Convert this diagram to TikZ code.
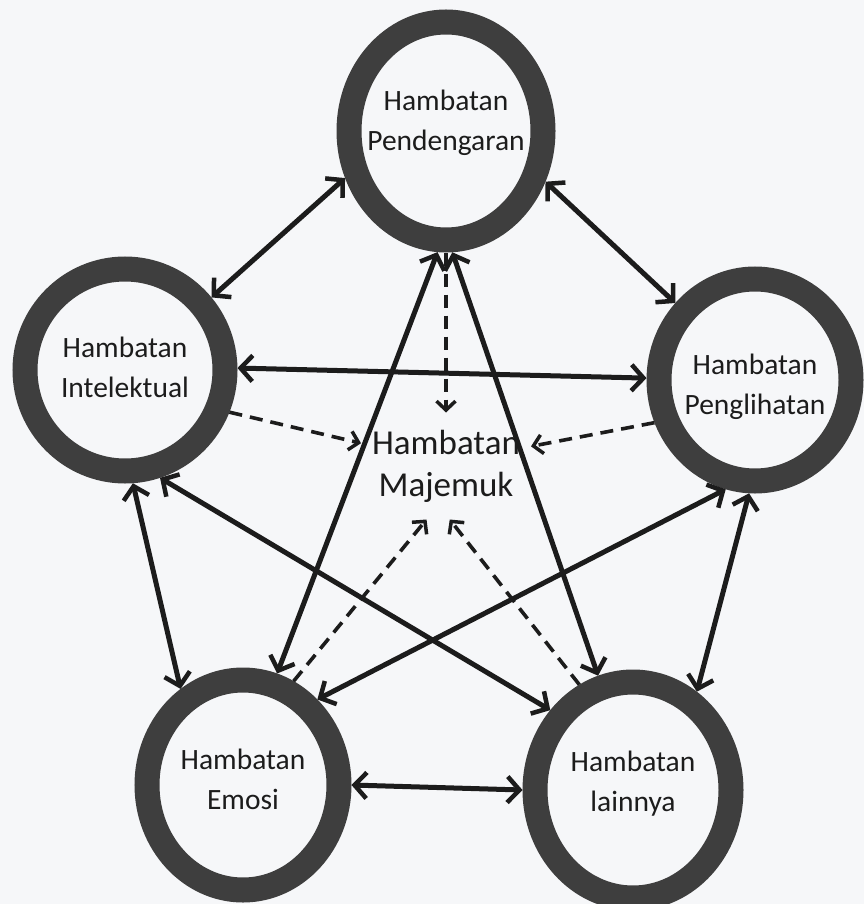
\documentclass[tikz,border=0pt]{standalone}
\usepackage{fontspec}
\setmainfont{Carlito}
\usetikzlibrary{arrows.meta,shapes.geometric}
\definecolor{ringgray}{RGB}{62,62,62}
\definecolor{inkblack}{RGB}{28,28,28}
\definecolor{paper}{RGB}{246,247,249}

\begin{document}
\begin{tikzpicture}[x=1pt,y=-1pt,
	ring/.style={ellipse,draw=ringgray,line width=25pt,outer sep=12.5pt,inner sep=0pt},
	ringtext/.style={align=center,text=inkblack,font=\fontsize{29.5}{40}\selectfont},
	link/.style={{Straight Barb[length=12pt,width=26pt,line width=4.5pt]}-{Straight Barb[length=12pt,width=26pt,line width=4.5pt]},line width=5pt,draw=inkblack},
	hint/.style={-{Straight Barb[length=9pt,width=19pt,line width=3.5pt]},line width=3.6pt,draw=inkblack,dash pattern=on 13pt off 8pt}]
		\useasboundingbox (0,0) rectangle (864,904);
		\fill[paper] (0,0) rectangle (864,904);
		\node[ring,minimum width=194pt,minimum height=218pt,label={[ringtext,yshift=8pt]center:Hambatan\\Pendengaran}] (pend) at (446,131) {};
		\node[ring,minimum width=200pt,minimum height=202pt,label={[ringtext,yshift=3pt]center:Hambatan\\Intelektual}] (intel) at (125,370) {};
		\node[ring,minimum width=192pt,minimum height=202pt,label={[ringtext,yshift=-7pt]center:Hambatan\\Penglihatan}] (peng) at (755,380) {};
		\node[ring,minimum width=192pt,minimum height=210pt,label={[ringtext,yshift=6pt]center:Hambatan\\Emosi}] (emosi) at (243,785) {};
		\node[ring,minimum width=196pt,minimum height=216pt,label={[ringtext,yshift=6pt]center:Hambatan\\lainnya}] (lain) at (633,790) {};
		\node[align=center,text=inkblack,font=\fontsize{35}{42}\selectfont,minimum width=170pt,minimum height=107pt,inner sep=0pt,outer sep=0pt] (maj) at (446,466) {Hambatan\\Majemuk};
		\draw[link] (pend.205) -- (intel.40);
		\draw[link] (pend.333) -- (peng.136);
		\draw[link] (intel.1) -- (peng.179);
		\draw[link] (intel.274) -- (emosi.123);
		\draw[link] (intel.288) -- (lain.136);
		\draw[link] (pend.266) -- (emosi.73);
		\draw[link] (pend.273) -- (lain.107);
		\draw[link] (peng.255) -- (emosi.49);
		\draw[link] (peng.267) -- (lain.57);
		\draw[link] (emosi.east) -- (lain.west);
		\draw[hint] (pend) -- (maj.north);
		\draw[hint] (intel.-22) -- (maj.165);
		\draw[hint] (peng.203) -- (maj.13);
		\draw[hint] (emosi.64) -- (maj.-110);
		\draw[hint] (lain.117) -- (maj.-86);
\end{tikzpicture}
\end{document}
